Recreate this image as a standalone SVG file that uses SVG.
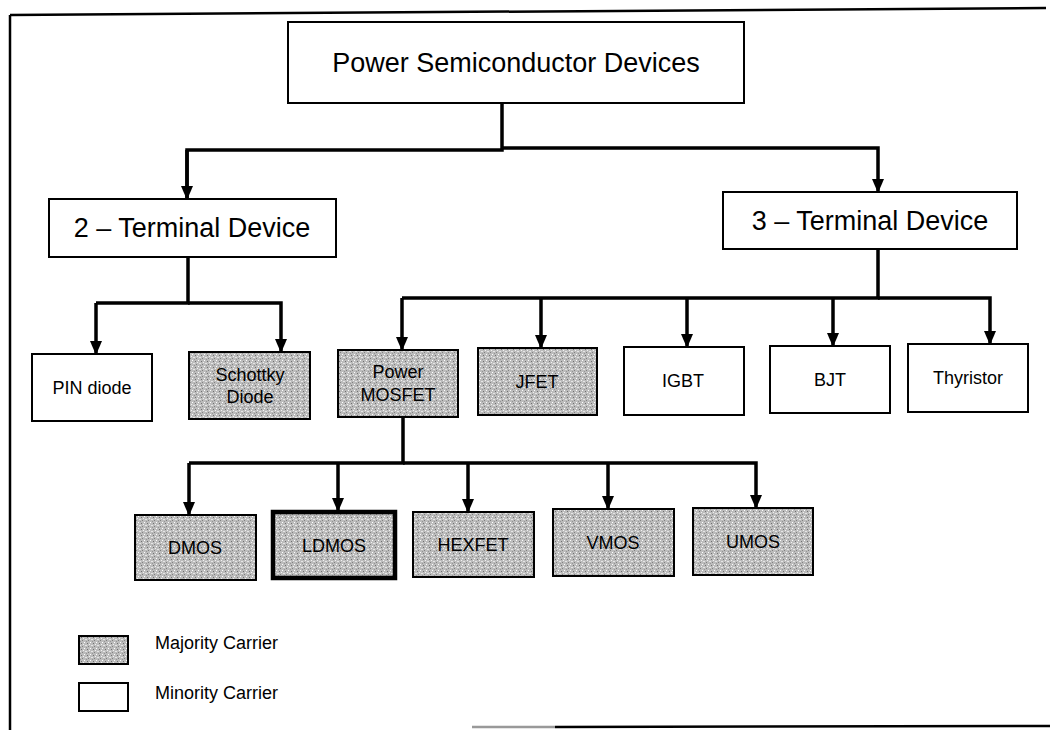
<svg xmlns="http://www.w3.org/2000/svg" width="1050" height="730" viewBox="0 0 1050 730">
  <defs>
    <pattern id="stipple" width="6" height="6" patternUnits="userSpaceOnUse">
      <rect width="6" height="6" fill="#bcbcbc"/>
      <rect x="0" y="0" width="1" height="1" fill="#ffffff"/>
      <rect x="3" y="1" width="1" height="1" fill="#707070"/>
      <rect x="1" y="3" width="2" height="1" fill="#e6e6e6"/>
      <rect x="4" y="4" width="1" height="1" fill="#808080"/>
      <rect x="5" y="2" width="1" height="1" fill="#f2f2f2"/>
      <rect x="2" y="5" width="1" height="1" fill="#959595"/>
    </pattern>
    <marker id="arrow" viewBox="0 0 14 12" refX="12" refY="6" markerWidth="14" markerHeight="12" markerUnits="userSpaceOnUse" orient="auto">
      <path d="M0,0 L14,6 L0,12 Z" fill="#000"/>
    </marker>
    <style>
      .box { fill: #ffffff; stroke: #000; stroke-width: 2; }
      .shaded { fill: url(#stipple); stroke: #000; stroke-width: 2; }
      .thick { stroke-width: 4.5; }
      .big { font-family: "Liberation Sans", Arial, sans-serif; font-size: 27px; fill: #000; text-anchor: middle; }
      .small { font-family: "Liberation Sans", Arial, sans-serif; font-size: 18px; fill: #000; text-anchor: middle; }
      .legend { font-family: "Liberation Sans", Arial, sans-serif; font-size: 18px; fill: #000; }
      .conn { fill: none; stroke: #000; stroke-width: 3.5; }
      .arr { marker-end: url(#arrow); }
      .frame { fill: none; stroke: #000; stroke-width: 2.5; }
    </style>
  </defs>

  <g id="frame">
    <path class="frame" d="M10,15 L1046,8"/>
    <path class="frame" d="M10,15 L10,730"/>
    <path d="M472,727 L555,727" stroke="#999" stroke-width="2.5"/>
    <path class="frame" d="M555,727 L1050,726"/>
  </g>

  <g id="connectors">
    <path class="conn" d="M502,103 V150 H187 V199"/>
    <path class="conn arr" d="M187,150 V198"/>
    <path class="conn arr" d="M502,148 H878 V191"/>
    <path class="conn" d="M188,257 V303 H96"/>
    <path class="conn arr" d="M96,303 V353"/>
    <path class="conn arr" d="M188,303 H281 V351"/>
    <path class="conn" d="M878,249 V298 H402"/>
    <path class="conn arr" d="M402,298 V349"/>
    <path class="conn arr" d="M541,298 V347"/>
    <path class="conn arr" d="M687,298 V346"/>
    <path class="conn arr" d="M833,298 V345"/>
    <path class="conn arr" d="M878,298 H990 V343"/>
    <path class="conn" d="M403,417 V463 H189"/>
    <path class="conn arr" d="M189,463 V514"/>
    <path class="conn arr" d="M338,463 V510"/>
    <path class="conn arr" d="M468,463 V511"/>
    <path class="conn arr" d="M403,463 H756 V507"/>
    <path class="conn arr" d="M608,463 V508"/>
  </g>

  <g id="power-semiconductor-devices">
    <rect class="box" x="288" y="22" width="456" height="81"/>
    <text class="big" x="516" y="72">Power Semiconductor Devices</text>
  </g>
  <g id="two-terminal">
    <rect class="box" x="49" y="199" width="287" height="58"/>
    <text class="big" x="192" y="237">2 – Terminal Device</text>
  </g>
  <g id="three-terminal">
    <rect class="box" x="723" y="192" width="294" height="57"/>
    <text class="big" x="870" y="230">3 – Terminal Device</text>
  </g>

  <g id="pin-diode">
    <rect class="box" x="32" y="354" width="120" height="67"/>
    <text class="small" x="92" y="394">PIN diode</text>
  </g>
  <g id="schottky-diode">
    <rect class="shaded" x="189" y="352" width="121" height="67"/>
    <text class="small" x="250" y="381">Schottky</text>
    <text class="small" x="250" y="403">Diode</text>
  </g>
  <g id="power-mosfet">
    <rect class="shaded" x="338" y="350" width="120" height="67"/>
    <text class="small" x="398" y="378">Power</text>
    <text class="small" x="398" y="401">MOSFET</text>
  </g>
  <g id="jfet">
    <rect class="shaded" x="478" y="348" width="119" height="67"/>
    <text class="small" x="537" y="388">JFET</text>
  </g>
  <g id="igbt">
    <rect class="box" x="624" y="347" width="120" height="68"/>
    <text class="small" x="683" y="387">IGBT</text>
  </g>
  <g id="bjt">
    <rect class="box" x="770" y="346" width="120" height="67"/>
    <text class="small" x="830" y="386">BJT</text>
  </g>
  <g id="thyristor">
    <rect class="box" x="908" y="344" width="120" height="68"/>
    <text class="small" x="968" y="384">Thyristor</text>
  </g>

  <g id="dmos">
    <rect class="shaded" x="135" y="515" width="121" height="65"/>
    <text class="small" x="195" y="554">DMOS</text>
  </g>
  <g id="ldmos">
    <rect class="shaded thick" x="273" y="512" width="122" height="66"/>
    <text class="small" x="334" y="552">LDMOS</text>
  </g>
  <g id="hexfet">
    <rect class="shaded" x="413" y="512" width="121" height="65"/>
    <text class="small" x="473" y="551">HEXFET</text>
  </g>
  <g id="vmos">
    <rect class="shaded" x="553" y="509" width="121" height="67"/>
    <text class="small" x="613" y="549">VMOS</text>
  </g>
  <g id="umos">
    <rect class="shaded" x="693" y="508" width="120" height="67"/>
    <text class="small" x="753" y="548">UMOS</text>
  </g>

  <g id="legend-majority">
    <rect class="shaded" x="79" y="636" width="49" height="28"/>
    <text class="legend" x="155" y="649">Majority Carrier</text>
  </g>
  <g id="legend-minority">
    <rect class="box" x="79" y="683" width="49" height="28"/>
    <text class="legend" x="155" y="699">Minority Carrier</text>
  </g>
</svg>
